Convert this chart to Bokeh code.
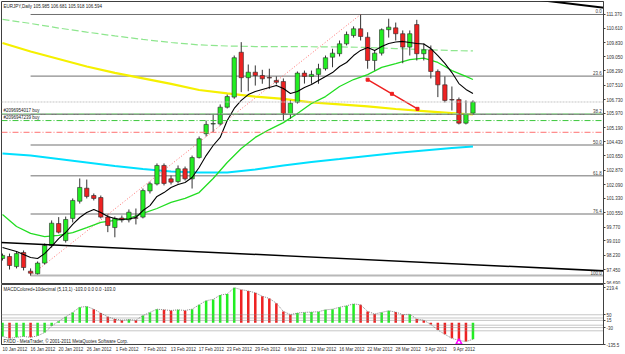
from bokeh.plotting import figure
from bokeh.models import Range1d, FixedTicker, Label, Span, ColumnDataSource, NumeralTickFormatter
from bokeh.layouts import column
from bokeh.embed import file_html
from bokeh.resources import INLINE
from bokeh.core.properties import value

FONT = "Liberation Sans"
FS = "4.5px"

# ---------------- data ----------------
symbol = "EURJPY,Daily"
date_idx = [0, 4, 8, 12, 16, 20, 24, 28, 32, 36, 40, 44, 48, 52, 56, 60, 64]
date_labels = ["10 Jan 2012", "16 Jan 2012", "20 Jan 2012", "26 Jan 2012", "1 Feb 2012",
               "7 Feb 2012", "13 Feb 2012", "17 Feb 2012", "23 Feb 2012", "29 Feb 2012",
               "6 Mar 2012", "12 Mar 2012", "16 Mar 2012", "22 Mar 2012", "28 Mar 2012",
               "3 Apr 2012", "9 Apr 2012"]

opens = [98.05, 98.16, 97.61, 98.38, 97.36, 97.22, 97.80, 98.76, 99.96, 99.03,
         100.24, 101.18, 101.89, 101.49, 101.38, 100.31, 99.74, 100.26, 100.16, 100.27,
         100.31, 101.74, 102.12, 103.13, 102.40, 102.25, 102.95, 102.40, 103.56, 104.86,
         105.39, 105.40, 106.31, 106.86, 109.31, 107.92, 108.22, 108.04, 107.93, 107.77,
         107.71, 105.95, 106.58, 108.17, 107.99, 108.10, 108.41, 109.04, 109.23, 109.77,
         110.22, 110.59, 110.13, 108.86, 109.26, 110.54, 110.64, 110.32, 109.59, 110.82,
         109.23, 109.44, 108.26, 107.53, 106.73, 106.73, 105.44, 105.985]
highs = [98.32, 98.32, 98.43, 98.49, 97.51, 97.89, 98.87, 100.13, 100.31, 100.34,
         101.33, 102.42, 102.36, 101.60, 101.49, 100.45, 100.34, 100.40, 100.73, 100.78,
         101.87, 102.25, 103.24, 103.24, 102.58, 103.13, 103.07, 103.67, 104.71, 105.58,
         105.95, 106.46, 107.00, 109.13, 109.86, 108.64, 108.59, 108.35, 108.41, 107.99,
         107.88, 106.68, 108.26, 108.31, 108.31, 108.68, 109.13, 109.50, 109.95, 110.44,
         110.72, 111.37, 110.40, 109.41, 110.61, 111.14, 110.93, 110.50, 110.50, 111.08,
         109.79, 109.68, 108.37, 107.99, 107.44, 106.84, 106.68, 106.681]
lows = [97.94, 97.45, 97.51, 97.40, 97.12, 97.18, 97.72, 98.65, 99.42, 98.92,
        100.02, 101.05, 101.33, 101.22, 100.24, 99.49, 99.21, 100.02, 100.02, 99.91,
        100.24, 101.60, 102.04, 102.04, 102.09, 102.15, 102.31, 101.87, 103.51, 104.71,
        104.95, 105.31, 106.24, 106.77, 107.13, 107.18, 107.49, 107.59, 107.31, 107.55,
        105.58, 105.69, 106.51, 107.60, 107.59, 107.59, 108.31, 108.49, 109.08, 109.68,
        110.11, 109.95, 108.41, 108.31, 109.13, 110.11, 109.95, 108.71, 109.13, 108.86,
        108.86, 107.88, 106.86, 106.57, 106.13, 105.37, 105.37, 105.918]
closes = [98.22, 97.67, 98.32, 97.56, 97.25, 97.80, 98.76, 99.98, 99.49, 100.18,
          101.22, 101.93, 101.44, 101.33, 100.31, 99.85, 100.24, 100.15, 100.58, 100.25,
          101.76, 102.13, 103.13, 102.15, 102.22, 102.95, 102.40, 103.56, 104.59, 105.37,
          105.42, 106.31, 106.89, 109.01, 107.92, 108.22, 108.04, 107.86, 107.90, 107.67,
          105.95, 106.53, 108.17, 107.99, 108.10, 108.41, 109.01, 109.26, 109.77, 110.28,
          110.59, 110.17, 108.86, 109.26, 110.54, 110.68, 110.32, 109.59, 110.32, 109.23,
          109.44, 108.26, 107.53, 106.68, 106.70, 105.44, 105.95, 106.594]
bars = list(range(len(opens)))

price_tick_labels = ["111.370", "110.610", "109.830", "109.050", "108.290", "107.510",
                     "106.730", "105.970", "105.190", "104.430", "103.650", "102.870",
                     "102.090", "101.330", "100.550", "99.770", "99.010", "98.230",
                     "97.450", "96.690"]

slow_idx = [0, 4, 8, 12, 16, 20, 24, 28, 32, 36, 40, 44, 48, 52, 56, 60, 64, 67]
ma_yellow = [109.81, 109.35, 108.94, 108.53, 108.18, 107.88, 107.58, 107.25, 107.06,
             106.89, 106.76, 106.57, 106.46, 106.35, 106.21, 106.10, 105.99, 105.91]
ma_green_dash = [111.10, 110.88, 110.63, 110.41, 110.20, 110.01, 109.84, 109.71, 109.65,
                 109.62, 109.62, 109.61, 109.60, 109.57, 109.51, 109.46, 109.40, 109.38]
ma_cyan = [103.78, 103.67, 103.48, 103.29, 103.10, 102.94, 102.80, 102.75, 102.75,
           102.91, 103.13, 103.32, 103.48, 103.65, 103.81, 103.95, 104.08, 104.16]

mid_idx = [0, 2, 4, 6, 8, 10, 12, 14, 16, 18, 20, 22, 24, 26, 28, 30, 32, 34, 36, 38,
           40, 42, 44, 46, 48, 50, 52, 54, 56, 58, 60, 62, 64, 66, 67]
ma_green = [100.45, 99.80, 99.42, 99.25, 99.31, 99.47, 99.74, 100.02, 100.13, 100.24,
            100.51, 100.78, 101.11, 101.33, 101.65, 102.42, 103.29, 104.06, 104.66, 105.09,
            105.47, 105.97, 106.51, 106.89, 107.44, 107.82, 108.09, 108.48, 108.69, 108.91,
            108.99, 108.75, 108.31, 107.99, 107.82]

ma_black = [98.65, 98.54, 98.43, 98.27, 98.11, 98.05, 98.32, 98.71, 99.14, 99.47,
            99.91, 100.29, 100.56, 100.73, 100.56, 100.34, 100.23, 100.18, 100.21, 100.29,
            100.67, 100.94, 101.44, 101.65, 101.93, 102.09, 102.20, 102.47, 103.02, 103.67,
            104.22, 104.66, 105.58, 106.24, 106.68, 107.00, 107.17, 107.28, 107.39, 107.49,
            107.33, 107.06, 107.17, 107.39, 107.55, 107.77, 107.99, 108.20, 108.53, 108.75,
            109.13, 109.41, 109.57, 109.41, 109.62, 109.79, 109.87, 109.90, 109.84, 109.79,
            109.76, 109.51, 109.13, 108.70, 108.20, 107.60, 107.28, 107.06]

fib_levels = [0.0, 23.6, 38.2, 50.0, 61.8, 76.4, 100.0]
fib_dark = [True, True, True, False, True, False, False]
fib_high, fib_high_bar = 111.37, 51
fib_low, fib_low_bar = 97.12, 4

order_labels = ["#2096954017 buy", "#2096947239 buy"]
order_prices = [105.95, 105.58]
stop_price = 104.94

trend_low_x, trend_low_y = [-0.3, 86.0], [98.93, 97.37]
trend_top_x, trend_top_y = [70.0, 86.0], [112.46, 111.72]
arrow_x, arrow_y = [52.0, 55.46, 59.1], [107.81, 107.04, 106.22]

macd_hist = [-85, -97, -91, -85, -91, -81, -61, -20, 10, 37,
             65, 97, 102, 85, 61, 37, 24, 16, 20, 16,
             45, 65, 85, 81, 77, 81, 77, 85, 112, 138,
             146, 173, 180, 219, 207, 199, 187, 166, 152, 122,
             71, 51, 61, 65, 67, 69, 81, 85, 97, 106,
             118, 112, 71, 55, 65, 75, 67, 51, 53, 24,
             16, -10, -45, -72, -97, -110, -117, -103]
macd_levels = [50, 30, 15, -15, -30, -50]
macd_ticks = [219.4, 50, 15, -30, -135.5]
macd_min = -135.5
macd_title = "MACDColored+10decimal (5,13,1) -103.0 0.0 0.0 -103.0"
footer = "FXDD - MetaTrader, \u00a9 2001-2011 MetaQuotes Software Corp."
mark_x, mark_y = [65.0], [-122.0]

# ---------------- styles ----------------
UP, DN = "#22ee22", "#ee2222"
X0, X1 = -0.142, 85.59


def style_common(fig):
    fig.grid.visible = False
    fig.background_fill_color = "white"
    fig.border_fill_color = "white"
    fig.outline_line_color = "#404040"
    fig.outline_line_width = 1


# ---------------- main pane ----------------
p = figure(width=625, height=284, x_range=Range1d(X0, X1), y_range=Range1d(96.687, 112.079),
           output_backend="svg", toolbar_location=None, y_axis_location="right",
           x_axis_location=None, min_border_left=1, min_border_right=20,
           min_border_top=1, min_border_bottom=1, title=None)
style_common(p)
ya = p.yaxis[0]
ya.ticker = FixedTicker(ticks=[float(t) for t in price_tick_labels])
ya.formatter = NumeralTickFormatter(format="0.000")
ya.major_label_text_font = FONT
ya.major_label_text_font_size = FS
ya.major_label_text_color = "#303030"
ya.major_tick_out = 2
ya.major_tick_in = 0
ya.minor_tick_line_color = None
ya.major_label_standoff = 1
ya.axis_line_color = "#404040"
ya.major_tick_line_color = "#404040"

# fib levels
fib_prices = [fib_high - (fib_high - fib_low) * lv / 100.0 for lv in fib_levels]
dark_y = [fp for fp, d in zip(fib_prices, fib_dark) if d]
light_y = [fp for fp, d in zip(fib_prices, fib_dark) if not d]
p.segment(x0=[fib_low_bar] * len(light_y), x1=[X1 + 5] * len(light_y), y0=light_y, y1=light_y,
          line_color="#b8b8b8", line_width=2)
p.segment(x0=[fib_low_bar] * len(dark_y), x1=[X1 + 5] * len(dark_y), y0=dark_y, y1=dark_y,
          line_color="#707070", line_width=1)
p.add_layout(Span(location=fib_prices[2], dimension="width", line_color="#707070", line_width=1))

# bid / orders / stop
p.add_layout(Span(location=closes[-1], dimension="width", line_color="#c4c4c4",
                  line_width=1, line_dash="2 1"))
p.add_layout(Span(location=order_prices[0], dimension="width", line_color="#9be69b",
                  line_width=1, line_dash="6 2 1 2"))
p.add_layout(Span(location=order_prices[1], dimension="width", line_color="#3cc83c",
                  line_width=1, line_dash="6 2 1 2"))
p.add_layout(Span(location=stop_price, dimension="width", line_color="#ff7070",
                  line_width=1, line_dash="6 2 1 2"))

# fib diagonal
p.line([fib_low_bar, fib_high_bar], [fib_low, fib_high], line_color="#ff7070",
       line_width=1, line_dash="1 2")

# moving averages
p.line(slow_idx, ma_green_dash, line_color="#8ee68e", line_width=1.2, line_dash="7 3")
p.line(slow_idx, ma_yellow, line_color="#f5f000", line_width=2.2)
p.line(slow_idx, ma_cyan, line_color="#00e0ff", line_width=2)
p.line(mid_idx, ma_green, line_color="#22dd22", line_width=1.3)

# candles
src = ColumnDataSource(dict(
    x=bars, h=highs, l=lows,
    top=[max(o, c) for o, c in zip(opens, closes)],
    bot=[min(o, c) for o, c in zip(opens, closes)],
    col=[UP if c >= o else DN for o, c in zip(opens, closes)]))
p.segment(x0="x", y0="h", x1="x", y1="l", source=src, line_color="#333333", line_width=1)
p.vbar(x="x", top="top", bottom="bot", width=0.62, fill_color="col",
       line_color="#2a2a2a", line_width=0.6, source=src)

p.line(bars, ma_black, line_color="black", line_width=1.1)

# trendlines
p.line(trend_low_x, trend_low_y, line_color="black", line_width=1.5)
p.line(trend_top_x, trend_top_y, line_color="black", line_width=2)
p.line(arrow_x, arrow_y, line_color="#ee2020", line_width=1.5)
p.scatter(arrow_x, arrow_y, marker="square", size=3, color="#ee2020")

# texts
header = "%s  %.3f %.3f %.3f %.3f" % (symbol, opens[-1], highs[-1], lows[-1], closes[-1])
p.text(x=[0.15], y=[111.83], text=[header], text_font=value(FONT), text_font_size=value(FS),
       text_color="#202020", text_baseline="middle", text_align="left")
p.text(x=[0.15] * 2, y=order_prices, text=order_labels, text_font=value(FONT),
       text_font_size=value(FS), text_color="#202020", text_baseline="bottom",
       text_align="left", y_offset=-1)
p.text(x=[X1 - 0.25] * len(fib_levels), y=fib_prices,
       text=["%.1f" % lv for lv in fib_levels], text_font=value(FONT),
       text_font_size=value(FS), text_color="#404040", text_baseline="bottom",
       text_align="right", y_offset=-1)
p.add_layout(Label(x=X1 + 0.2, y=closes[-1], text="%.3f" % closes[-1], text_font=FONT,
                   text_font_size=FS, text_color="white", background_fill_color="black",
                   text_baseline="middle", text_align="left"))

# ---------------- MACD pane ----------------
p2 = figure(width=625, height=70, x_range=p.x_range, y_range=Range1d(macd_min, 239.0),
            output_backend="svg", toolbar_location=None, y_axis_location="right",
            x_axis_location="below", min_border_left=1, min_border_right=20,
            min_border_top=0, min_border_bottom=9, title=None)
style_common(p2)
y2 = p2.yaxis[0]
y2.ticker = FixedTicker(ticks=macd_ticks)
y2.formatter = NumeralTickFormatter(format="0.[0]")
y2.major_label_text_font = FONT
y2.major_label_text_font_size = FS
y2.major_label_text_color = "#303030"
y2.major_tick_out = 2
y2.major_tick_in = 0
y2.minor_tick_line_color = None
y2.major_label_standoff = 1
y2.axis_line_color = "#404040"
y2.major_tick_line_color = "#404040"

x2 = p2.xaxis[0]
tick_pos = [i + 1.75 for i in date_idx]
x2.ticker = FixedTicker(ticks=tick_pos)
x2.major_label_overrides = {t: lab for t, lab in zip(tick_pos, date_labels)}
x2.major_label_text_font = FONT
x2.major_label_text_font_size = FS
x2.major_label_text_color = "#303030"
x2.major_tick_line_color = None
x2.minor_tick_line_color = None
x2.major_tick_out = 0
x2.major_tick_in = 0
x2.major_label_standoff = 2
x2.axis_line_color = "#404040"

for lv in macd_levels:
    p2.add_layout(Span(location=lv, dimension="width", line_color="#8c8c8c",
                       line_width=1, line_dash="1 1"))

hist_col = [UP if (i == 0 or macd_hist[i] >= macd_hist[i - 1]) else DN
            for i in range(len(macd_hist))]
p2.vbar(x=bars, top=macd_hist, bottom=0, width=0.36, fill_color=hist_col, line_color=None)
p2.line(bars, macd_hist, line_color="#888888", line_width=1, line_dash="1 1")
p2.scatter(mark_x, mark_y, marker="triangle", size=6, line_color="#ff00ff",
           fill_alpha=0, line_width=1.5)

p2.text(x=[0.15], y=[205], text=[macd_title], text_font=value(FONT), text_font_size=value(FS),
        text_color="#202020", text_baseline="middle", text_align="left")
p2.text(x=[0.15], y=[-114], text=[footer], text_font=value(FONT), text_font_size=value(FS),
        text_color="#202020", text_baseline="middle", text_align="left")

layout = column(p, p2, spacing=0)
open("out.html", "w").write(file_html(layout, INLINE))
